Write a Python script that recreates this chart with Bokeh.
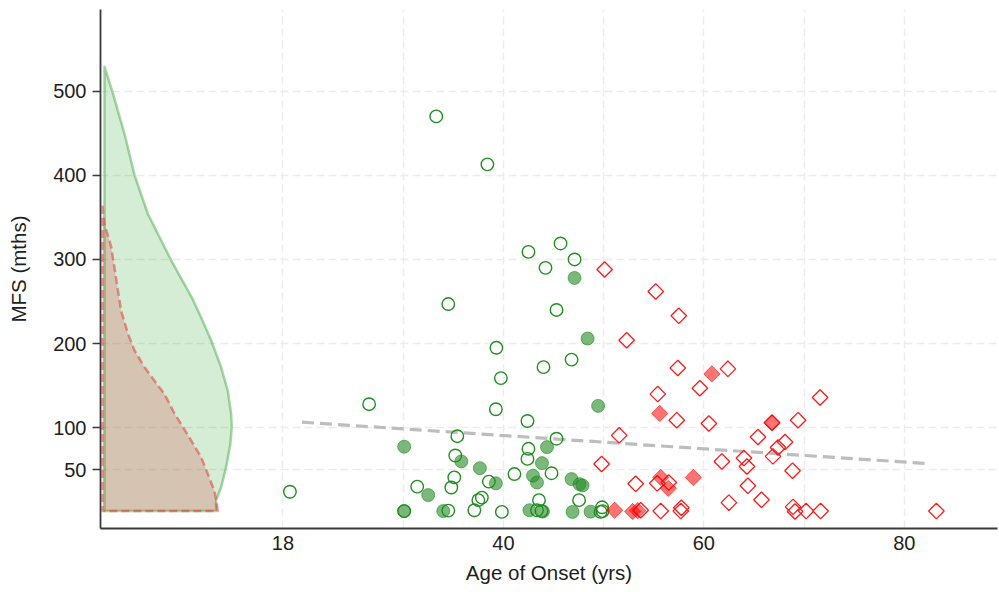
from bokeh.plotting import figure
from bokeh.models import FixedTicker, Range1d
from bokeh.embed import file_html
from bokeh.resources import INLINE
import numpy as np

# ---- data ----
green_open_age = [33.3, 38.4, 42.5, 45.7, 47.1, 44.2, 34.5, 45.3, 39.3, 46.8,
                  44.0, 39.75, 26.6, 39.25, 42.4, 35.4, 45.3, 42.5, 35.2, 42.4,
                  44.8, 41.1, 35.1, 38.55, 31.4, 34.8, 18.7, 37.85, 37.5, 43.55,
                  47.55, 30.1, 34.5, 37.1, 39.85, 43.35, 43.8, 49.85, 49.9, 49.7]
green_open_mfs = [470, 413, 309, 319, 300, 290, 247, 240, 195, 181,
                  172, 159, 128, 122, 108, 90, 87, 75, 67, 63,
                  46, 45, 41, 36, 30, 29, 24, 17, 14, 14,
                  14, 1, 1.5, 2, 0, 2, 1, 5.5, 1, 0]

green_filled_age = [47.1, 48.4, 49.45, 30.1, 44.35, 35.8, 43.85, 37.65, 42.95, 46.8,
                    39.25, 43.35, 47.6, 47.9, 32.5, 30.1, 34.0, 42.6, 43.95, 46.9, 48.7]
green_filled_mfs = [278, 206, 126, 77.5, 77, 60, 58, 52, 43, 39,
                    34, 35, 33, 31.5, 20, 1, 1, 2, 0.5, 0, 0.3]

red_open_age = [50.1, 55.2, 57.5, 52.3, 57.4, 62.4, 59.6, 55.4, 71.6, 57.3,
                60.5, 69.4, 66.8, 51.55, 65.4, 68.1, 67.4, 66.9, 64.0, 61.8,
                64.3, 49.8, 68.85, 53.2, 55.35, 56.5, 64.4, 62.5, 65.75, 55.7,
                57.75, 57.7, 68.9, 69.1, 70.2, 71.65, 83.2, 53.7]
red_open_mfs = [288, 262, 233, 204, 171, 170, 147, 140, 136, 109,
                105, 109, 106, 91, 89, 83, 76.5, 66, 64, 60,
                54, 57, 49, 33.4, 34, 35, 31, 11, 14.4, 1,
                5, 1, 6, 0.5, 1, 1, 1, 2]

red_filled_age = [60.8, 55.6, 66.8, 55.7, 58.95, 56.45, 51.1, 52.9, 53.4]
red_filled_mfs = [164, 117, 106, 41, 41, 28, 2, 0.5, 1.5]

trend_age = [19.9, 82.6]
trend_mfs = [106.6, 57.2]

# half-violin outlines (MFS level, width in x units)
green_kde_mfs = [529, 500, 449, 400, 354, 299, 255, 231, 204, 172,
                 144, 117, 101, 81, 53, 29, 14, 1]
green_kde_width = [0, 0.77, 2.0, 3.0, 4.33, 6.65, 8.7, 9.64, 10.64, 11.63,
                   12.3, 12.63, 12.7, 12.56, 12.13, 11.63, 11.14, 11.14]
red_kde_mfs = [364, 342, 315, 263, 239, 212, 192, 172, 156, 140,
               117, 101, 85, 65, 45, 25, 14, 1]
red_kde_width = [0, 0.2, 0.87, 1.54, 1.86, 2.53, 3.19, 4.19, 5.18, 6.18,
                 7.18, 8.02, 8.84, 9.84, 10.51, 11.17, 11.34, 11.5]

x_ticks = [18, 40, 60, 80]
x_minor_ticks = [30, 50, 70]
y_ticks = [50, 100, 200, 300, 400, 500]

FONT = "Liberation Sans"

p = figure(width=998, height=590,
           x_range=Range1d(-0.2, 89.3), y_range=Range1d(-19.7, 597),
           output_backend="svg", toolbar_location=None,
           min_border_left=100, min_border_right=1, min_border_top=9, min_border_bottom=62)
p.outline_line_color = None
p.background_fill_color = "white"
p.border_fill_color = "white"

# grids
for g in (p.xgrid, p.ygrid):
    g.grid_line_color = "#ececec"
    g.grid_line_dash = "8 4"
    g.grid_line_width = 1.5
p.xgrid.minor_grid_line_color = "#ececec"
p.xgrid.minor_grid_line_dash = "8 4"
p.xgrid.minor_grid_line_width = 1.5

# axes
p.xaxis.ticker = FixedTicker(ticks=x_ticks, minor_ticks=x_minor_ticks)
p.yaxis.ticker = FixedTicker(ticks=y_ticks)
p.xaxis.axis_label = "Age of Onset (yrs)"
p.yaxis.axis_label = "MFS (mths)"
for ax in (p.xaxis[0], p.yaxis[0]):
    ax.axis_line_color = "#3a3a3a"
    ax.axis_line_width = 1.8
    ax.major_label_text_font = FONT
    ax.major_label_text_font_size = "20px"
    ax.major_label_text_color = "#1e1e1e"
    ax.axis_label_text_font = FONT
    ax.axis_label_text_font_size = "20.5px"
    ax.axis_label_text_font_style = "normal"
    ax.axis_label_text_color = "#1e1e1e"
    ax.minor_tick_line_color = None
    ax.minor_tick_in = 0
    ax.minor_tick_out = 0
p.xaxis.major_tick_line_color = None
p.xaxis.major_tick_in = 0
p.xaxis.major_tick_out = 0
p.xaxis.major_label_standoff = 7
p.xaxis.axis_label_standoff = 8
p.yaxis.major_tick_line_color = "#3a3a3a"
p.yaxis.major_tick_line_width = 1.5
p.yaxis.major_tick_in = 0
p.yaxis.major_tick_out = 8
p.yaxis.major_label_standoff = 6
p.yaxis.axis_label_standoff = 20

# half violins
g_base = 0.2
gx = [g_base + w for w in green_kde_width] + [g_base, g_base]
gy = list(green_kde_mfs) + [green_kde_mfs[-1], green_kde_mfs[0]]
p.patch(gx, gy, fill_color="#2ca02c", fill_alpha=0.2,
        line_color="#2ca02c", line_alpha=0.42, line_width=2.5, line_join="round")

r_base = 0.0
rx = [r_base + w for w in red_kde_width] + [r_base, r_base]
ry = list(red_kde_mfs) + [red_kde_mfs[-1], red_kde_mfs[0]]
p.patch(rx, ry, fill_color="#d62728", fill_alpha=0.2,
        line_color="#e83030", line_alpha=0.5, line_width=2.5, line_dash="8 4", line_join="round")

# trend line
p.line(trend_age, trend_mfs, line_color="#bdbdbd", line_width=3.2, line_dash="12 6")

# points
p.scatter(green_open_age, green_open_mfs, marker="circle", size=12.5,
          fill_color=None, line_color="#1f8f1f", line_width=1.4)
p.scatter(green_filled_age, green_filled_mfs, marker="circle", size=13,
          fill_color="#228b22", fill_alpha=0.6, line_color="#228b22", line_alpha=0.6, line_width=1)
p.scatter(red_open_age, red_open_mfs, marker="square", angle=np.pi / 4, size=11,
          fill_color=None, line_color="#ff1a1a", line_width=1.3)
p.scatter(red_filled_age, red_filled_mfs, marker="square", angle=np.pi / 4, size=11.5,
          fill_color="#ff0000", fill_alpha=0.55, line_color="#ff0000", line_alpha=0.55, line_width=1)

open("out.html", "w").write(file_html(p, INLINE))
